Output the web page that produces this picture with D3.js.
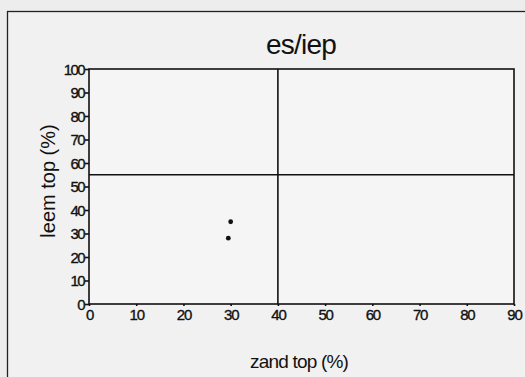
<!DOCTYPE html>
<html><head><meta charset="utf-8">
<script src="https://cdn.jsdelivr.net/npm/d3@7"></script>
<style>
html,body{margin:0;padding:0;background:#ededed;overflow:hidden;}
svg{display:block;font-family:"Liberation Sans",Arial,sans-serif;}
</style></head>
<body>
<svg id="c" width="525" height="377"></svg>
<script>
const title = "es/iep";
const xLabel = "zand top (%)";
const yLabel = "leem top (%)";
const xTicks = [0,10,20,30,40,50,60,70,80,90];
const yTicks = [0,10,20,30,40,50,60,70,80,90,100];
const zand = [30, 29.5];
const leem = [35, 28];
const refX = [40];
const refY = [55];

const svg = d3.select("#c");
const m = {l:89, t:69, r:514, b:304};
svg.append("rect").attr("x",0).attr("y",0).attr("width",525).attr("height",377).attr("fill","#ededed");
svg.append("rect").attr("x",7.5).attr("y",11.5).attr("width",560).attr("height",400)
  .attr("fill","#f1f1f1").attr("stroke","#222").attr("stroke-width",1.3);

const x = d3.scaleLinear().domain([0,90]).range([m.l,m.r]);
const y = d3.scaleLinear().domain([0,100]).range([m.b,m.t]);

svg.append("rect").attr("x",m.l).attr("y",m.t).attr("width",m.r-m.l).attr("height",m.b-m.t)
  .attr("fill","#f5f5f5").attr("stroke","#111").attr("stroke-width",1.6);

svg.selectAll(".rx").data(refX).join("line").attr("x1",d=>x(d)).attr("x2",d=>x(d))
  .attr("y1",m.t).attr("y2",m.b).attr("stroke","#111").attr("stroke-width",1.6);
svg.selectAll(".ry").data(refY).join("line").attr("y1",d=>y(d)).attr("y2",d=>y(d))
  .attr("x1",m.l).attr("x2",m.r).attr("stroke","#111").attr("stroke-width",1.6);

const xa = svg.append("g").attr("transform",`translate(0,${m.b})`)
  .call(d3.axisBottom(x).tickValues(xTicks).tickSize(2).tickPadding(3).tickFormat(d3.format("d")));
const ya = svg.append("g").attr("transform",`translate(${m.l},0)`)
  .call(d3.axisLeft(y).tickValues(yTicks).tickSize(4).tickPadding(1).tickFormat(d3.format("d")));
[xa,ya].forEach(a=>{
  a.select(".domain").remove();
  a.selectAll("line").attr("stroke","#111").attr("stroke-width",1.6);
  a.selectAll("text").attr("fill","#111").attr("stroke","#111").attr("stroke-width",0.35)
    .style("font-size","15px").style("letter-spacing","-1.6px")
    .style("font-family","'Liberation Sans',Arial,sans-serif");
});
xa.selectAll("text").attr("dy","0.75em").style("letter-spacing","-1.2px");
ya.selectAll("text").attr("dy","0.35em");

svg.selectAll(".pt").data(zand).join("circle")
  .attr("cx",(d)=>x(d)).attr("cy",(d,i)=>y(leem[i])).attr("r",2.4).attr("fill","#111");

svg.append("text").attr("x",301).attr("y",54).attr("text-anchor","middle")
  .style("font-size","28px").style("letter-spacing","-0.8px").attr("fill","#111").text(title);
svg.append("text").attr("x",299).attr("y",368).attr("text-anchor","middle")
  .style("font-size","19px").style("letter-spacing","-0.8px").attr("fill","#111").text(xLabel);
svg.append("text").attr("transform","translate(55,181) rotate(-90)").attr("text-anchor","middle")
  .style("font-size","20px").attr("fill","#111").text(yLabel);
</script>
</body></html>
